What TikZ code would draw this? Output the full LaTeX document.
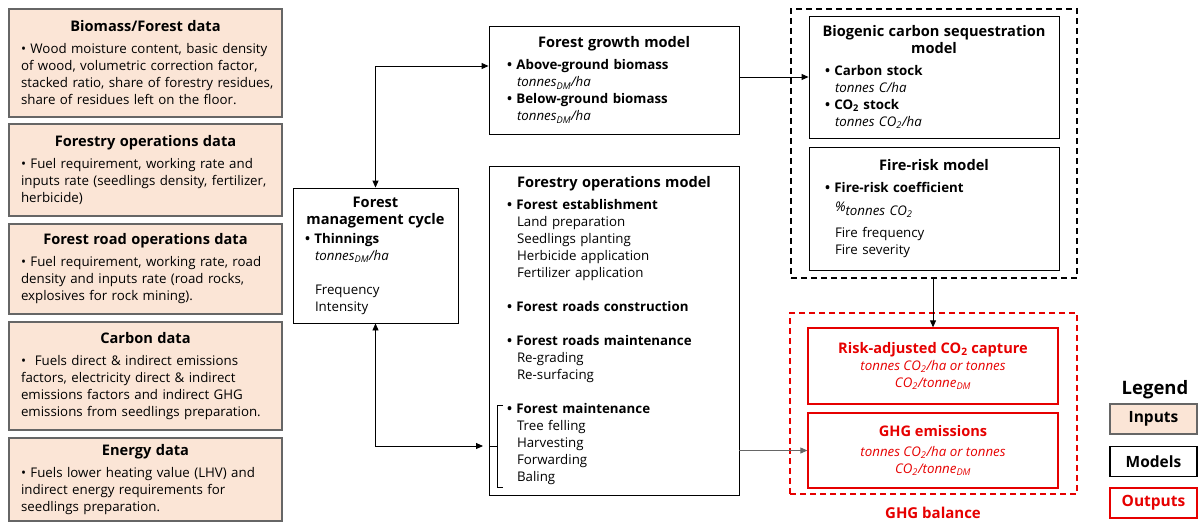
\documentclass[tikz,border=0pt]{standalone}
\usepackage{fontspec}
\setmainfont{Open Sans}
\usetikzlibrary{arrows.meta,positioning}
\setlength\parindent{0pt}
\definecolor{inputfill}{HTML}{FBE5D6}
\definecolor{outred}{HTML}{E60000}
\newcommand\titlefont{\fontsize{14.6}{17}\selectfont\bfseries}
\newcommand\titleline[1]{\makebox[\hsize]{\titlefont #1}\par}
\newcommand\boxtitle[1]{\titleline{#1}\vspace{5pt}}
\newcommand\ind{\hspace*{10pt}}

\begin{document}
\begin{tikzpicture}[x=1pt,y=-1pt,font=\fontsize{13.3}{17}\selectfont,
  inputbox/.style={draw=black!60,fill=inputfill,line width=1.1pt,inner xsep=12pt,
    text width=249pt,minimum width=273pt,align=left},
  modelbox/.style={draw=black,line width=0.9pt,inner xsep=18pt,text width=214pt,align=left},
  outbox/.style={draw=outred,line width=1.3pt,text=outred,minimum width=250pt,align=center},
  groupbox/.style={draw,dash pattern=on 6pt off 4pt,line width=1.3pt},
  legbox/.style={line width=1.4pt,minimum width=87pt,minimum height=30pt,
    font=\fontsize{15.5}{17}\selectfont\bfseries},
  link/.style={line width=0.9pt,-{Triangle[length=7pt,width=6pt]}},
  biglink/.style={line width=0.9pt,{Triangle[length=7pt,width=6pt]}-{Triangle[length=7pt,width=6pt]}}]
\useasboundingbox (0,0) rectangle (1198,522);

% inputs
\path
(145.5,63) node[inputbox,minimum height=108pt] (biomass) {\boxtitle{Biomass/Forest data}
  • Wood moisture content, basic density\\
  of wood, volumetric correction factor,\\
  \mbox{stacked ratio, share of forestry residues,}\\
  share of residues left on the floor.}
(145.5,170) node[inputbox,minimum height=92pt] (opsdata) {\boxtitle{Forestry operations data}
  • Fuel requirement, working rate and\\
  inputs rate (seedlings density, fertilizer,\\
  herbicide)}
(145.5,269) node[inputbox,minimum height=90pt] (roaddata) {\boxtitle{Forest road operations data}
  • Fuel requirement, working rate, road\\
  density and inputs rate (road rocks,\\
  explosives for rock mining).}
(145.5,376) node[inputbox,minimum height=108pt] (carbondata) {\boxtitle{Carbon data}
  •\ \ Fuels direct \& indirect emissions\\
  factors, electricity direct \& indirect\\
  emissions factors and indirect GHG\\
  \mbox{emissions from seedlings preparation.}}
(145.5,479.5) node[inputbox,minimum height=83pt] (energydata) {\boxtitle{Energy data}
  • Fuels lower heating value (LHV) and\\
  indirect energy requirements for\\
  seedlings preparation.};

% models
\path
(375.5,255.5) node[modelbox,inner xsep=12pt,text width=141pt,minimum height=135pt] (fmc) {\titleline{Forest}\titleline{management cycle}\vspace{2pt}
  \textbf{• Thinnings}\\
  \ind\textit{tonnes\textsubscript{DM}/ha}\\[17pt]
  \ind Frequency\\
  \ind Intensity}
(614,80) node[modelbox,minimum height=108pt] (growth) {\boxtitle{Forest growth model}
  \textbf{• Above-ground biomass}\\
  \ind\textit{tonnes\textsubscript{DM}/ha}\\
  \textbf{• Below-ground biomass}\\
  \ind\textit{tonnes\textsubscript{DM}/ha}}
(614,330.5) node[modelbox,minimum height=329pt] (ops) {\boxtitle{Forestry operations model}
  \textbf{• Forest establishment}\\
  \ind Land preparation\\
  \ind Seedlings planting\\
  \ind Herbicide application\\
  \ind Fertilizer application\\[17pt]
  \textbf{• Forest roads construction}\\[17pt]
  \textbf{• Forest roads maintenance}\\
  \ind Re-grading\\
  \ind Re-surfacing\\[17pt]
  \textbf{• Forest maintenance}\\
  \ind Tree felling\\
  \ind Harvesting\\
  \ind Forwarding\\
  \ind Baling}
(934,143.5) node[groupbox,minimum width=286pt,minimum height=269pt] (grpmodel) {}
(934,77) node[modelbox,inner xsep=16pt,text width=218pt,minimum height=122pt] (bio) {\titleline{Biogenic carbon sequestration}\boxtitle{model}
  \textbf{• Carbon stock}\\
  \ind\textit{tonnes C/ha}\\
  \textbf{• CO\textsubscript{2} stock}\\
  \ind\textit{tonnes CO\textsubscript{2}/ha}}
(934,208.5) node[modelbox,inner xsep=16pt,text width=218pt,minimum height=123pt] (fire) {\boxtitle{Fire-risk model}
  \textbf{• Fire-risk coefficient}\\[2pt]
  \ind\textit{\%\raisebox{-4pt}{tonnes CO\textsubscript{2}}}\\[9pt]
  \ind Fire frequency\\
  \ind Fire severity};

% outputs
\path
(933.5,403.5) node[groupbox,draw=outred,minimum width=287pt,minimum height=181pt] (grpout) {}
(933,366) node[outbox,minimum height=76pt] (risk) {{\titlefont Risk-adjusted CO\textsubscript{2} capture}\\
  \textit{tonnes CO\textsubscript{2}/ha or tonnes}\\
  \textit{CO\textsubscript{2}/tonne\textsubscript{DM}}}
(933,450.5) node[outbox,minimum height=75pt] (ghg) {{\titlefont GHG emissions}\\[3pt]
  \textit{tonnes CO\textsubscript{2}/ha or tonnes}\\
  \textit{CO\textsubscript{2}/tonne\textsubscript{DM}}}
(933,513) node[text=outred,font=\fontsize{15}{17}\selectfont\bfseries] (balance) {GHG balance};

% legend
\path
(1155,390) node[font=\fontsize{18.5}{20}\selectfont\bfseries] (legend) {Legend}
(1153.5,419) node[legbox,draw=black!60,fill=inputfill] (leginput) {Inputs}
(1153.5,461.5) node[legbox,draw=black] (legmodel) {Models}
(1153.5,503) node[legbox,draw=outred,text=outred] (legout) {Outputs};

% bracket round forest maintenance
\coordinate (brk) at (483,446);
\draw[line width=0.8pt] (503,405) -- (497,405) -- (497,487) -- (503,487);
\draw[line width=0.8pt] (489,446) -- (497,446);

\draw[biglink] (fmc.north) |- ([yshift=14pt]growth.west);
\draw[biglink] (fmc.south) |- (brk);
\draw[link] (growth.east |- bio.west) -- (bio.west);
\draw[link,draw=black!60] (ops.east |- ghg.west) -- (ghg.west);
\draw[link] (risk.north |- grpmodel.south) -- (risk.north);
\end{tikzpicture}
\end{document}
